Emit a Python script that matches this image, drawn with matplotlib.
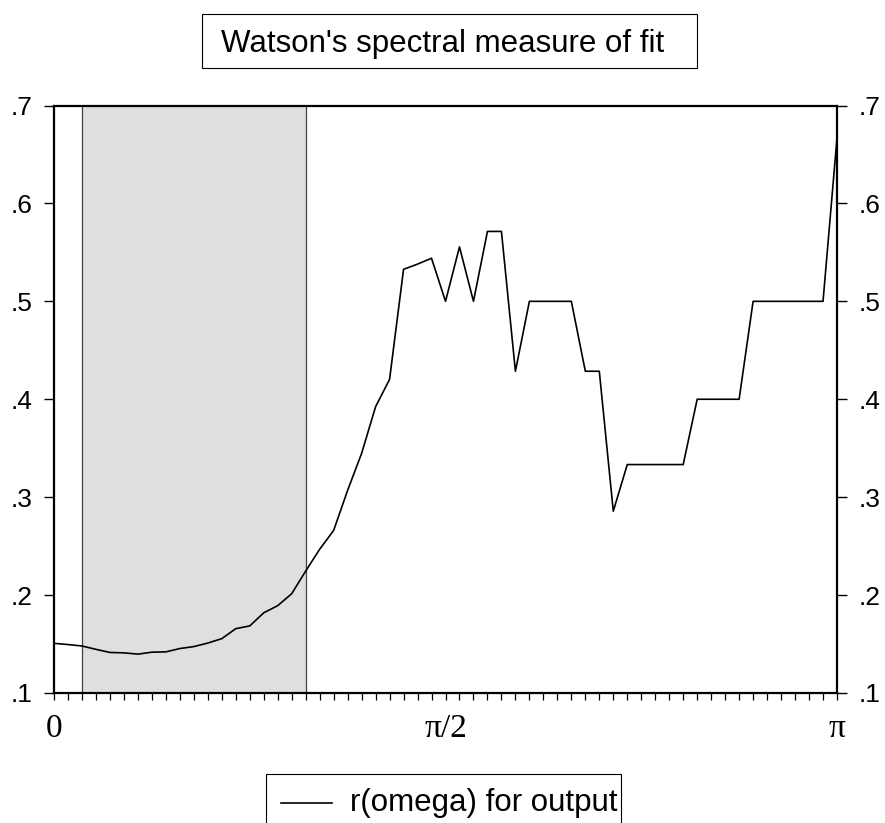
import numpy as np
import matplotlib
matplotlib.use("Agg")
import matplotlib.pyplot as plt
from matplotlib.patches import Rectangle
from matplotlib.lines import Line2D

# ---- data ----
n_intervals = 56
r_omega = [0.1507, 0.1495, 0.1480, 0.1446, 0.1414, 0.1410, 0.1397, 0.1417, 0.1420,
           0.1454, 0.1474, 0.1510, 0.1555, 0.1657, 0.1685, 0.1819, 0.1892, 0.2014,
           0.2245, 0.2468, 0.2660, 0.3070, 0.3447, 0.3924, 0.4203, 0.5327, 0.5380,
           0.5440, 0.5000, 0.5556, 0.5000, 0.5714, 0.5714, 0.4286, 0.5000, 0.5000,
           0.5000, 0.5000, 0.4286, 0.4286, 0.2857, 0.3333, 0.3333, 0.3333, 0.3333,
           0.3333, 0.4000, 0.4000, 0.4000, 0.4000, 0.5000, 0.5000, 0.5000, 0.5000,
           0.5000, 0.5000, 0.6667]
band_index = [2, 18]
y_ticks = [0.1, 0.2, 0.3, 0.4, 0.5, 0.6, 0.7]
y_ticklabels = [".1", ".2", ".3", ".4", ".5", ".6", ".7"]
x_label_pos = {0: "0", 28: "π/2", 56: "π"}
title = "Watson's spectral measure of fit"
legend_label = "r(omega) for output"

omega = np.pi * np.arange(len(r_omega)) / n_intervals
band_lo = np.pi * band_index[0] / n_intervals
band_hi = np.pi * band_index[1] / n_intervals

W, H = 885, 823
fig = plt.figure(figsize=(W / 100, H / 100), dpi=100)
plt.rcParams['font.family'] = ['Liberation Sans', 'DejaVu Sans']

L, R, T, B = 54, 837, 105.5, 693
ax = fig.add_axes([L / W, 1 - B / H, (R - L) / W, (B - T) / H])

ax.axvspan(band_lo, band_hi, color='#dfdfdf', lw=0, zorder=0)
for xv in (band_lo, band_hi):
    ax.axvline(xv, color='#404040', lw=0.9, zorder=1)

ax.plot(omega, r_omega, color='black', lw=1.2, zorder=3)

ax.set_xlim(0, np.pi)
ax.set_ylim(0.1, 0.7)

for s in ax.spines.values():
    s.set_linewidth(1.6)
    s.set_zorder(5)

ax.set_xticks(omega)
ax.set_xticklabels([x_label_pos.get(i, "") for i in range(len(omega))],
                   fontsize=24, family=['Liberation Serif', 'DejaVu Serif'])
ax.tick_params(axis='x', direction='out', length=5, width=0.9, pad=10)

ax.set_yticks(y_ticks)
ax.set_yticklabels(y_ticklabels, fontsize=19)
ax.tick_params(axis='y', which='both', direction='out', length=7.5, width=1.0,
               left=True, right=True, labelleft=True, labelright=True, pad=8)
for t in ax.yaxis.get_major_ticks():
    t.label2.set_fontsize(19)

# title box
fig.patches.append(Rectangle((202 / W, 1 - 68 / H), 495 / W, 54 / H, transform=fig.transFigure,
                             fill=False, edgecolor='black', lw=0.8))
fig.text(221 / W, 1 - 52 / H, title, fontsize=22.5, ha='left', va='baseline')

# legend box
fig.patches.append(Rectangle((266 / W, -10 / H), 355 / W, (823 - 774 + 10) / H,
                             transform=fig.transFigure, fill=False, edgecolor='black', lw=0.8))
fig.lines.append(Line2D([281 / W, 332 / W], [1 - 803 / H, 1 - 803 / H],
                        transform=fig.transFigure, color='black', lw=1.2))
fig.text(350 / W, 1 - 811 / H, legend_label, fontsize=22.5, ha='left', va='baseline')

fig.savefig("out.png", dpi=100)
